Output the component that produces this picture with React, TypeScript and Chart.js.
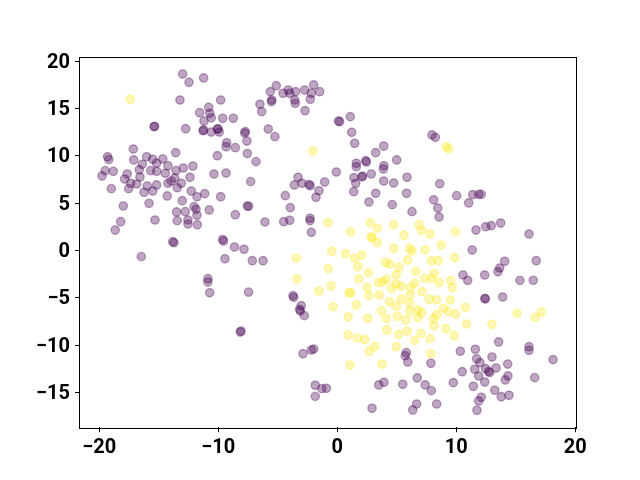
import React, { useEffect, useRef } from "react";
import { Chart, registerables } from "chart.js";

Chart.register(...registerables);

// Class 0 (dark purple) points [x, y]
const purplePoints: [number, number][] = [
  [-12.99, 18.64], [-12.46, 17.76], [-11.23, 18.22], [-13.22, 15.89], [-9.8, 15.89], [-10.81, 15.12],
  [-11.56, 14.55], [-10.72, 14.49], [-10.59, 14.02], [-9.63, 13.96], [-8.74, 13.96], [-11.2, 13.67],
  [-15.4, 13.07], [-15.35, 13.12], [-12.74, 12.86], [-11.29, 12.65], [-11.22, 12.72], [-10.59, 12.51],
  [-10.08, 12.8], [-10.02, 12.86], [-9.92, 12.51], [-7.78, 12.41], [-7.72, 12.55], [-7.59, 11.56],
  [-9.29, 11.38], [-9.35, 10.96], [-8.57, 10.86], [-17.14, 10.72], [-13.58, 10.33], [-19.3, 9.9],
  [-19.2, 9.6], [-17.11, 9.56], [-16.02, 9.9], [-15.51, 9.63], [-14.67, 9.66], [-15.18, 9.21],
  [-16.39, 9.1], [-14.23, 8.95], [-12.13, 8.92], [-12.94, 8.71], [-10.08, 10.01], [-7.56, 10.24],
  [-19.5, 8.43], [-18.82, 8.36], [-16.64, 8.53], [-15.68, 8.43], [-15.18, 8.36], [-14.45, 8.15],
  [-13.55, 8.43], [-10.36, 8.08], [-9.35, 8.18], [-19.77, 7.87], [-17.65, 8.08], [-17.87, 7.55],
  [-16.58, 7.76], [-13.66, 7.66], [-12.38, 7.73], [-13.95, 7.34], [-14.23, 7.1], [-13.11, 7.1],
  [-17.36, 7.1], [-16.86, 7.02], [-18.99, 6.53], [-17.53, 6.53], [-15.97, 6.81], [-15.18, 6.92],
  [-13.45, 6.63], [-12.27, 6.28], [-16.24, 6.15], [-15.51, 6.28], [-11.79, 5.68], [-11.14, 6.0],
  [-9.8, 5.68], [-14.29, 5.76], [-13.03, 5.26], [-12.04, 4.63], [-11.87, 4.35], [-17.98, 4.7],
  [-15.82, 4.98], [-7.56, 4.7], [-13.5, 4.07], [-12.77, 4.1], [-11.79, 3.72], [-10.76, 4.28],
  [-8.57, 3.78], [-12.55, 3.22], [-13.45, 3.15], [-12.55, 2.8], [-11.76, 2.72], [-15.32, 3.22],
  [-18.2, 3.04], [-18.66, 2.16], [-13.83, 0.93], [-13.72, 0.82], [-9.63, 1.16], [-9.56, 1.0],
  [-8.64, 0.37], [-7.84, 0.13], [-16.47, -0.65], [-9.44, -0.87], [-10.87, -2.98], [-10.87, -3.33],
  [-10.72, -4.46], [-7.46, -4.4], [-8.15, -8.61], [-8.09, -8.5],
  [-5.13, 17.4], [-5.63, 16.77], [-4.56, 16.6], [-4.12, 16.95], [-4.0, 16.6], [-3.5, 16.77],
  [-2.74, 16.95], [-1.98, 17.48], [-2.18, 16.6], [-1.48, 16.77], [-5.51, 15.89], [-5.53, 15.73],
  [-3.58, 15.89], [-3.53, 15.54], [-2.27, 15.97], [-6.5, 15.44], [-6.35, 14.66], [-2.71, 14.76],
  [0.2, 13.6], [0.1, 13.67], [1.09, 14.13], [-5.8, 12.83], [-5.24, 12.02], [1.21, 12.48],
  [1.46, 11.32], [-6.83, 9.38], [3.9, 11.03], [3.23, 10.33], [4.99, 9.56], [1.6, 9.21],
  [2.39, 9.48], [2.45, 9.35], [1.6, 8.85], [3.92, 8.95], [3.87, 8.61], [2.86, 8.08],
  [2.08, 7.79], [2.12, 7.85], [1.4, 7.69], [1.55, 7.1], [-0.08, 8.29], [3.9, 7.34], [4.74, 7.13],
  [5.86, 7.73], [-7.28, 7.27], [-3.3, 7.73], [-3.61, 6.92], [-2.97, 7.1], [-2.27, 6.84],
  [-2.38, 6.97], [-1.06, 7.23], [-1.54, 6.31], [-1.79, 5.62], [-4.37, 5.79], [1.38, 6.21],
  [3.23, 6.04], [5.82, 6.04], [2.66, 5.12], [4.62, 4.84], [6.28, 4.1], [-7.45, 4.67],
  [-3.95, 4.52], [-6.08, 3.01], [-4.5, 3.04], [-4.0, 3.19], [-2.29, 3.4], [-2.29, 3.15],
  [-2.18, 1.92],
  [7.96, 12.2], [8.24, 11.95], [8.61, 7.05], [8.1, 5.36], [10.03, 5.79], [11.38, 5.89],
  [11.88, 5.93], [12.1, 5.93], [11.04, 5.02], [8.44, 4.49], [8.55, 3.54], [11.66, 2.16],
  [12.47, 2.51], [12.94, 2.62], [13.73, 2.9], [16.11, 1.74],
  [-7.14, -1.08], [-6.24, -1.08], [-3.72, -4.77], [-3.66, -4.94], [-3.03, -5.83], [-3.16, -6.21],
  [-3.11, -6.39], [-2.77, -6.88], [-1.98, -10.4], [-2.18, -10.51], [-2.88, -10.9], [-1.85, -14.23],
  [-1.29, -14.59], [-0.92, -14.55], [-1.85, -15.4], [2.92, -16.66], [3.48, -14.2], [3.92, -13.92],
  [5.5, -14.13], [6.34, -16.84], [5.8, -10.79], [5.71, -11.11], [5.92, -11.77],
  [11.34, 0.05], [14.07, -1.14], [13.65, -1.85], [13.5, -2.24], [16.72, -1.08], [10.56, -2.59],
  [10.96, -3.15], [12.39, -2.59], [15.35, -3.15], [16.47, -3.15], [12.44, -5.12], [12.4, -5.05],
  [13.9, -4.91], [13.56, -9.66], [16.11, -10.16], [16.11, -10.54], [18.13, -11.53], [10.34, -10.64],
  [11.6, -10.43], [11.71, -11.43], [11.99, -11.85], [13.0, -11.25], [14.32, -11.99], [11.55, -12.54],
  [12.47, -12.48], [12.81, -12.9], [12.71, -12.78], [13.34, -12.41], [11.88, -13.25], [12.39, -13.89],
  [10.5, -12.8], [9.75, -13.96], [11.43, -14.34], [14.34, -13.25], [14.12, -13.67], [16.59, -13.43],
  [13.23, -14.76], [13.78, -15.44], [14.43, -15.29], [12.1, -15.5], [11.88, -15.89], [11.74, -16.87],
  [8.35, -16.21], [6.72, -13.46], [7.39, -14.2], [7.9, -14.8], [6.67, -16.21], [7.87, -11.91],
];

// Class 1 (yellow) points [x, y]
const yellowPoints: [number, number][] = [
  [-17.39, 15.97], [-2.04, 10.51], [9.16, 10.96], [9.36, 10.75], [-0.78, 2.94], [1.13, 1.95],
  [2.77, 2.94], [3.36, 2.34], [2.86, 1.46], [2.92, 1.32], [3.38, 0.84], [4.74, 2.72],
  [5.61, 1.61], [6.87, 2.72], [7.09, 2.13], [7.79, 1.74], [9.92, 1.99], [8.74, 0.58],
  [-3.45, -0.82], [-3.39, -3.01], [-1.54, -4.28], [-0.53, -3.75], [-0.76, -1.92], [-0.47, -0.08],
  [0.67, -0.34], [1.46, -0.82], [2.08, -0.48], [1.74, -1.71], [2.61, -2.34], [1.8, -3.01],
  [2.5, -3.89], [3.45, -3.4], [3.84, -3.33], [4.12, -3.04], [0.98, -4.46], [1.13, -4.46],
  [2.66, -4.77], [3.53, -4.7], [-0.36, -5.93], [1.6, -5.76], [0.92, -7.02], [2.55, -7.16],
  [3.7, -6.36], [4.12, -7.16], [0.9, -8.92], [1.68, -9.24], [2.3, -9.42], [3.17, -10.16],
  [2.69, -10.64], [1.07, -12.09], [3.76, -11.99], [4.96, -10.16], [4.18, -8.39], [5.16, -8.85],
  [5.88, -8.5], [5.04, -6.95], [5.75, -7.34], [4.96, -5.93], [6.08, -6.41], [4.4, -5.41],
  [5.38, -5.15], [6.08, -5.58], [4.57, -3.99], [4.96, -3.54], [5.38, -3.75], [6.17, -3.93],
  [4.96, -2.56], [5.18, -1.77], [4.4, -1.43], [4.07, -1.25], [5.91, -1.0], [4.74, 0.23],
  [6.08, 0.23], [6.28, -0.05], [6.13, -4.7], [7.37, 0.05], [7.9, -1.08], [8.49, -1.08],
  [9.87, -0.76], [6.59, -2.2], [8.15, -2.41], [7.34, -2.94], [7.93, -2.94], [8.57, -3.4],
  [9.53, -3.19], [9.66, -3.93], [6.5, -3.46], [7.12, -4.35], [7.71, -5.15], [8.35, -5.2],
  [9.5, -5.23], [6.78, -6.28], [7.09, -6.57], [8.91, -6.1], [9.33, -6.46], [9.95, -6.71],
  [10.76, -6.0], [6.76, -7.1], [8.07, -7.2], [8.35, -6.78], [8.13, -7.94], [7.03, -8.74],
  [9.13, -8.26], [9.83, -9.0], [10.87, -7.76], [13.0, -7.79], [6.5, -9.52], [7.79, -9.31],
  [7.87, -10.9], [15.1, -6.63], [16.64, -7.05], [17.14, -6.49],
];

const xTicks = [-20, -10, 0, 10, 20];
const yTicks = [-15, -10, -5, 0, 5, 10, 15, 20];
const xLimits = [-21.62, 20.06];
const yLimits = [-18.66, 20.37];

const PURPLE = "rgba(68, 1, 84, 0.35)";
const YELLOW = "rgba(253, 231, 37, 0.35)";

const fmt = (v: number) => (v < 0 ? "\u2212" + Math.abs(v) : String(v));

const framePlugin = {
  id: "frame",
  afterDraw(chart: any) {
    const { ctx, chartArea } = chart;
    ctx.save();
    ctx.strokeStyle = "#000";
    ctx.lineWidth = 1;
    ctx.strokeRect(
      Math.round(chartArea.left) - 0.5,
      Math.round(chartArea.top) - 0.5,
      Math.round(chartArea.right - chartArea.left) + 1,
      Math.round(chartArea.bottom - chartArea.top) + 1
    );
    ctx.restore();
  },
};

export default function App() {
  const ref = useRef<HTMLCanvasElement | null>(null);

  useEffect(() => {
    if (!ref.current) return;
    const tickFont = { family: "Roboto", size: 20, weight: "bold" as const };
    const chart = new Chart(ref.current, {
      type: "scatter",
      data: {
        datasets: [
          {
            data: purplePoints.map(([x, y]) => ({ x, y })),
            backgroundColor: PURPLE,
            borderColor: PURPLE,
            borderWidth: 1.3,
            pointRadius: 4.2,
          },
          {
            data: yellowPoints.map(([x, y]) => ({ x, y })),
            backgroundColor: YELLOW,
            borderColor: YELLOW,
            borderWidth: 1.3,
            pointRadius: 4.2,
          },
        ],
      },
      options: {
        responsive: false,
        animation: false,
        devicePixelRatio: 1,
        layout: { padding: { top: 57.6, right: 64, bottom: 0, left: 0 } },
        plugins: { legend: { display: false }, tooltip: { enabled: false } },
        scales: {
          x: {
            type: "linear",
            min: xLimits[0],
            max: xLimits[1],
            afterBuildTicks: (s: any) => {
              s.ticks = xTicks.map((v) => ({ value: v }));
            },
            afterFit: (s: any) => {
              s.height = 52.8;
            },
            grid: { drawOnChartArea: false, drawTicks: true, tickLength: 5, color: "#000", lineWidth: 1 },
            border: { display: false },
            ticks: { color: "#000", font: tickFont, padding: 4, maxRotation: 0, callback: (v: any) => fmt(Number(v)) },
          },
          y: {
            type: "linear",
            min: yLimits[0],
            max: yLimits[1],
            afterBuildTicks: (s: any) => {
              s.ticks = yTicks.map((v) => ({ value: v }));
            },
            afterFit: (s: any) => {
              s.width = 80;
            },
            grid: { drawOnChartArea: false, drawTicks: true, tickLength: 5, color: "#000", lineWidth: 1 },
            border: { display: false },
            ticks: { color: "#000", font: tickFont, padding: 5, labelOffset: 1.5, callback: (v: any) => fmt(Number(v)) },
          },
        },
      },
      plugins: [framePlugin],
    });
    return () => chart.destroy();
  }, []);

  return (
    <div style={{ position: "absolute", left: 0, top: 0, width: 640, height: 480, background: "#fff" }}>
      <canvas ref={ref} width={640} height={480} />
    </div>
  );
}
